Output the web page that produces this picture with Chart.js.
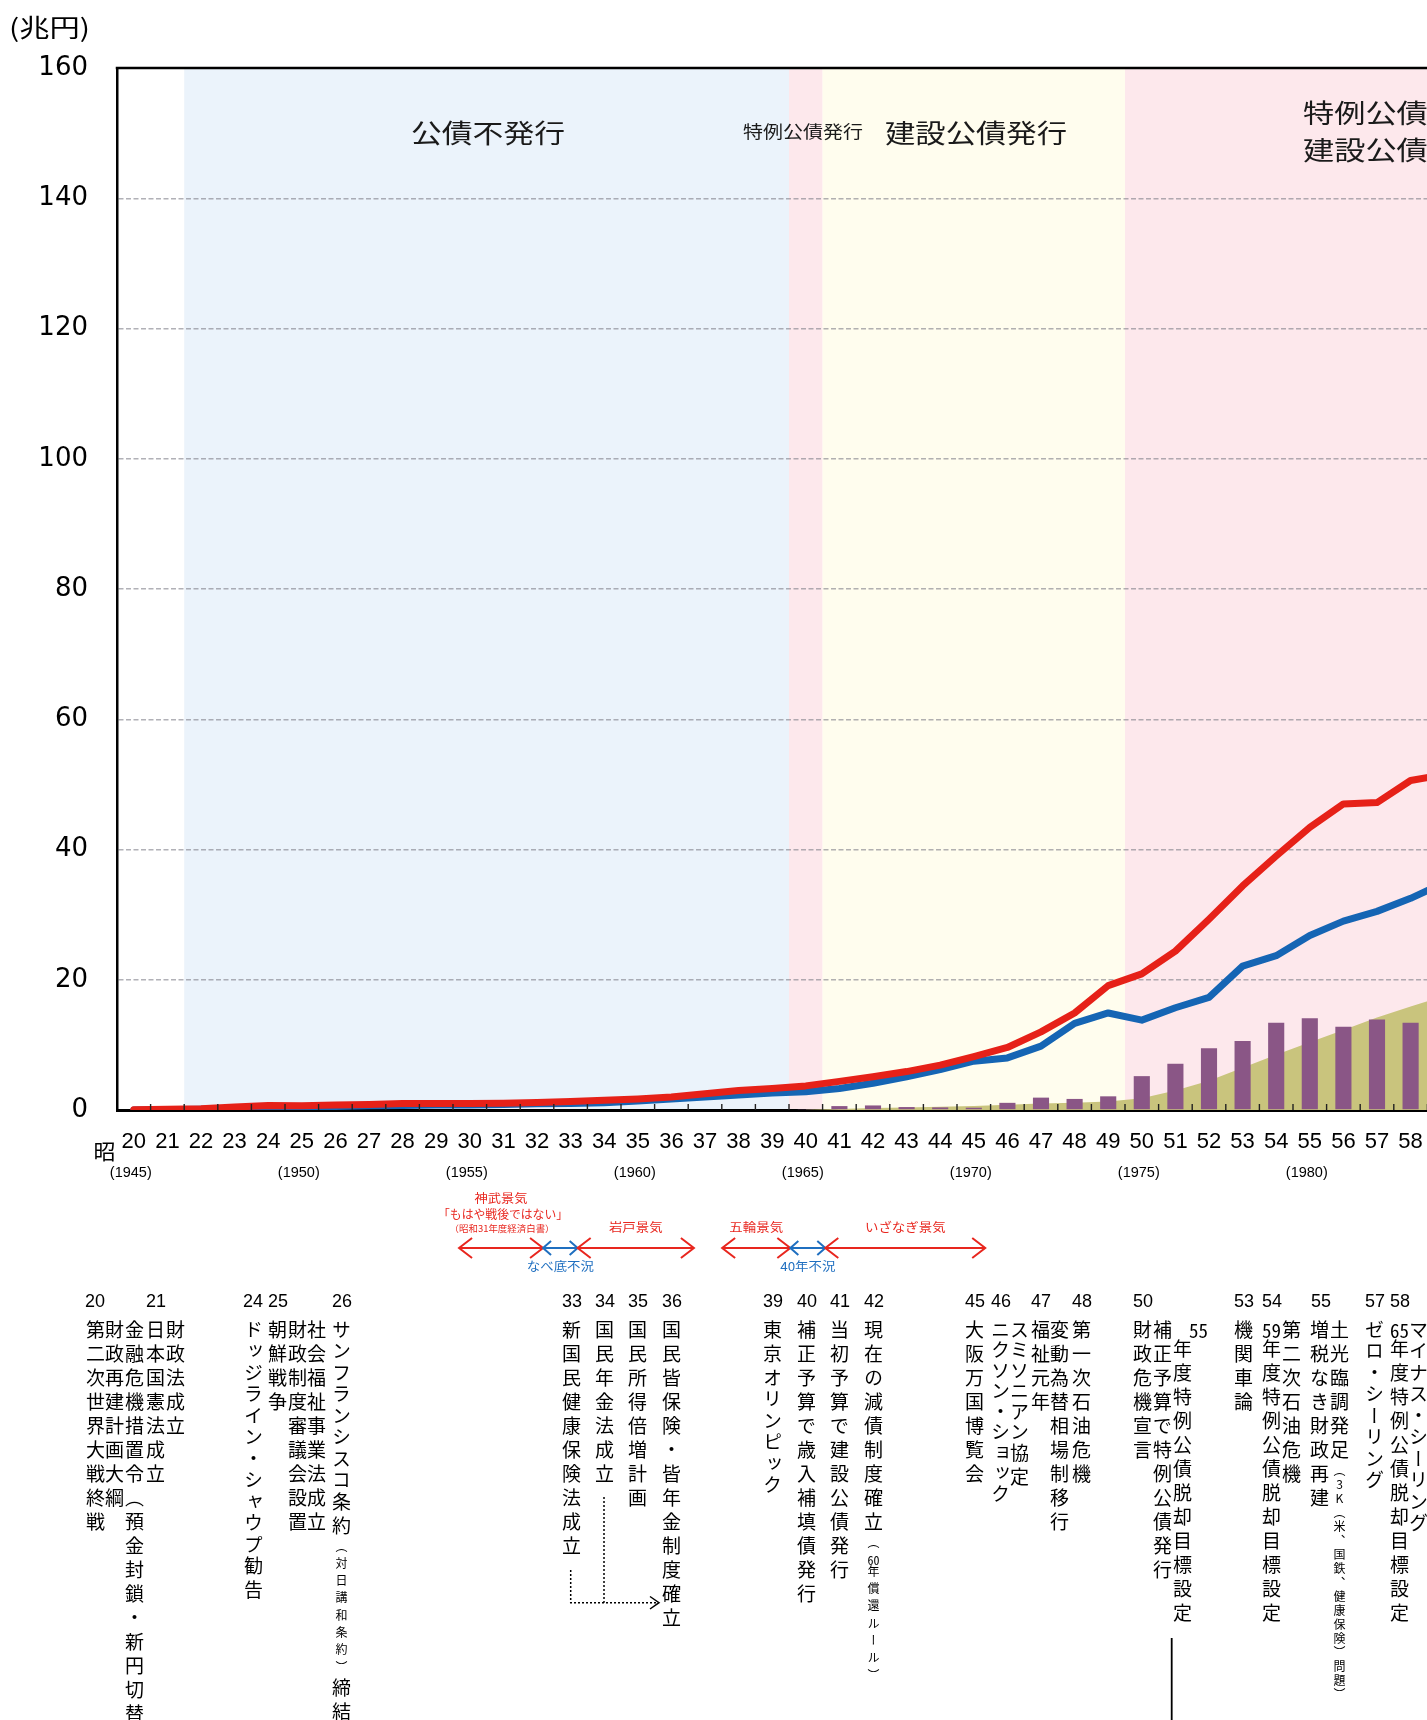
<!DOCTYPE html>
<html lang="ja">
<head>
<meta charset="utf-8">
<title>一般会計の推移</title>
<script src="https://cdn.jsdelivr.net/npm/chart.js@4.4.1/dist/chart.umd.min.js"></script>
<style>
  html, body { margin: 0; padding: 0; background: #fff; }
  body { position: relative; width: 1427px; height: 1720px; overflow: hidden; }
  #chart { position: absolute; left: 0; top: 0; }
  .yr { position: absolute; top: 1291px; font: 18px/20px "Liberation Sans", Arial, sans-serif; color: #000; }
  .note { position: absolute; top: 1320px; writing-mode: vertical-rl; font-family: "Noto Sans CJK JP", sans-serif;
          font-size: 19px; line-height: 20px; letter-spacing: 5px; color: #000; white-space: nowrap; }
  .note .s { font-size: 12px; letter-spacing: 5.3px; }
  .note .s2 { font-size: 12px; letter-spacing: 2px; }
  .note .k { letter-spacing: 2.5px; }
  .note .k2 { letter-spacing: 1.5px; }
  .tcy { text-combine-upright: all; }
  .up { text-orientation: upright; }
</style>
</head>
<body>
<canvas id="chart" width="1480" height="1720"></canvas>

<!-- 年表（縦書き） -->
<div class="yr" style="left:85px">20</div>
<div class="note" style="left:85px">第二次世界大戦終戦</div>
<div class="note" style="left:104px">財政再建計画大綱</div>
<div class="note" style="left:124px">金融危機措置令（預金封鎖・新円切替）</div>
<div class="yr" style="left:146px">21</div>
<div class="note" style="left:145px">日本国憲法成立</div>
<div class="note" style="left:165px">財政法成立</div>
<div class="yr" style="left:243px">24</div>
<div class="note" style="left:243px"><span class="k">ドッジライン・シャウプ</span>勧告</div>
<div class="yr" style="left:268px">25</div>
<div class="note" style="left:267px">朝鮮戦争</div>
<div class="note" style="left:287px">財政制度審議会設置</div>
<div class="note" style="left:306px">社会福祉事業法成立</div>
<div class="yr" style="left:332px">26</div>
<div class="note" style="left:331px"><span class="k">サンフランシスコ</span>条約<span class="s">（対日講和条約）</span>締結</div>
<div class="yr" style="left:562px">33</div>
<div class="note" style="left:561px">新国民健康保険法成立</div>
<div class="yr" style="left:595px">34</div>
<div class="note" style="left:594px">国民年金法成立</div>
<div class="yr" style="left:628px">35</div>
<div class="note" style="left:627px">国民所得倍増計画</div>
<div class="yr" style="left:662px">36</div>
<div class="note" style="left:661px">国民皆保険・皆年金制度確立</div>
<div class="yr" style="left:763px">39</div>
<div class="note" style="left:762px">東京<span class="k">オリンピック</span></div>
<div class="yr" style="left:797px">40</div>
<div class="note" style="left:796px">補正予算で歳入補填債発行</div>
<div class="yr" style="left:830px">41</div>
<div class="note" style="left:829px">当初予算で建設公債発行</div>
<div class="yr" style="left:864px">42</div>
<div class="note" style="left:863px">現在の減債制度確立<span class="s">（<span class="tcy">60</span>年償還ルール）</span></div>
<div class="yr" style="left:965px">45</div>
<div class="note" style="left:964px">大阪万国博覧会</div>
<div class="yr" style="left:991px">46</div>
<div class="note" style="left:990px"><span class="k2">ニクソン・ショック</span></div>
<div class="note" style="left:1009px"><span class="k2">スミソニアン</span>協定</div>
<div class="yr" style="left:1031px">47</div>
<div class="note" style="left:1030px">福祉元年</div>
<div class="note" style="left:1049px">変動為替相場制移行</div>
<div class="yr" style="left:1072px">48</div>
<div class="note" style="left:1071px">第一次石油危機</div>
<div class="yr" style="left:1133px">50</div>
<div class="note" style="left:1132px">財政危機宣言</div>
<div class="note" style="left:1152px">補正予算で特例公債発行</div>
<div class="note" style="left:1172px"><span class="tcy" style="position:relative;left:16px">55</span>年度特例公債脱却目標設定</div>
<div class="yr" style="left:1234px">53</div>
<div class="note" style="left:1233px">機関車論</div>
<div class="yr" style="left:1262px">54</div>
<div class="note" style="left:1261px"><span class="tcy">59</span>年度特例公債脱却目標設定</div>
<div class="note" style="left:1281px">第二次石油危機</div>
<div class="yr" style="left:1311px">55</div>
<div class="note" style="left:1309px">増税なき財政再建</div>
<div class="note" style="left:1329px">土光臨調発足<span class="s2">（<span class="up">3K</span>（米、国鉄、健康保険）問題）</span></div>
<div class="yr" style="left:1365px">57</div>
<div class="note" style="left:1364px"><span class="k">ゼロ・シーリング</span></div>
<div class="yr" style="left:1390px">58</div>
<div class="note" style="left:1389px"><span class="tcy">65</span>年度特例公債脱却目標設定</div>
<div class="note" style="left:1408px"><span class="k">マイナス・シーリング</span></div>

<script>
// 年度（昭和）
var years = ['20', '21', '22', '23', '24', '25', '26', '27', '28', '29',
             '30', '31', '32', '33', '34', '35', '36', '37', '38', '39',
             '40', '41', '42', '43', '44', '45', '46', '47', '48', '49',
             '50', '51', '52', '53', '54', '55', '56', '57', '58', '59'];

// 歳出（赤線, 兆円）
var expenditure = [0.02, 0.1, 0.2, 0.45, 0.7, 0.65, 0.75, 0.85, 1.0, 1.0,
                   1.0, 1.05, 1.15, 1.3, 1.5, 1.7, 2.0, 2.5, 3.0, 3.3,
                   3.7, 4.4, 5.1, 5.9, 6.9, 8.2, 9.6, 12.0, 14.9, 19.1,
                   20.9, 24.4, 29.3, 34.4, 39.0, 43.4, 47.0, 47.2, 50.6, 51.5];

// 税収（青線, 兆円）
var taxRevenue = [0.01, 0.04, 0.12, 0.25, 0.45, 0.45, 0.55, 0.65, 0.7, 0.75,
                  0.75, 0.85, 0.95, 1.0, 1.1, 1.4, 1.7, 2.0, 2.3, 2.6,
                  2.8, 3.3, 4.1, 5.1, 6.2, 7.5, 8.0, 9.8, 13.3, 14.9,
                  13.8, 15.7, 17.3, 22.1, 23.7, 26.8, 29.0, 30.5, 32.5, 34.9];

// 公債発行額（紫の棒, 兆円）
var bondIssue = [null, null, null, null, null, null, null, null, null, null,
                 null, null, null, null, null, null, null, null, null, null,
                 0.15, 0.6, 0.7, 0.45, 0.4, 0.35, 1.1, 1.9, 1.7, 2.1,
                 5.2, 7.1, 9.5, 10.6, 13.4, 14.1, 12.8, 13.9, 13.4, 12.8];

// 面グラフ（オリーブ）
var bondStock = [null, null, null, null, null, null, null, null, null, null,
                 null, null, null, null, null, null, null, null, null, null,
                 0.05, 0.15, 0.3, 0.4, 0.5, 0.6, 0.8, 1.0, 1.1, 1.3,
                 1.8, 3.0, 4.5, 6.5, 8.5, 10.4, 12.3, 14.2, 15.9, 17.5];

var yTickLabels = ['0', '20', '40', '60', '80', '100', '120', '140', '160'];

var eraYears = ['20', '25', '30', '35', '40', '45', '50', '55'];
var eraLabels = ['(1945)', '(1950)', '(1955)', '(1960)', '(1965)', '(1970)', '(1975)', '(1980)'];

// 背景の期間
var bandFrom = ['22', '40', '41', '50'];
var bandTo = ['39', '40', '49', '59'];

// 景気（昭和年度の位置）
var boomNames = ['神武景気', 'なべ底不況', '岩戸景気', '五輪景気', '40年不況', 'いざなぎ景気'];
var boomFrom = [29.68, 32.18, 33.21, 37.51, 39.54, 40.58];
var boomTo = [32.18, 33.21, 36.67, 39.54, 40.58, 45.34];
var boomKind = ['up', 'down', 'up', 'up', 'down', 'up'];

var bandColors = ['#ebf3fb', '#fde8ec', '#fffdee', '#fde8ec'];
var JP = '"Noto Sans CJK JP", sans-serif';

// Draw a text squeezed/stretched horizontally
function drawText(ctx, str, x, y, size, sx, color, align) {
    ctx.save();
    ctx.font = size + 'px ' + JP;
    ctx.fillStyle = color;
    ctx.textAlign = align || 'center';
    ctx.textBaseline = 'middle';
    ctx.translate(x, y);
    ctx.scale(sx, 1);
    ctx.fillText(str, 0, 0);
    ctx.restore();
}

function fitText(ctx, str, cx, cy, size, width, color) {
    ctx.save();
    ctx.font = size + 'px ' + JP;
    var m = ctx.measureText(str).width;
    ctx.restore();
    drawText(ctx, str, cx, cy, size, width / m, color, 'center');
}

function drawArrow(ctx, x0, x1, y, color, hw, hh) {
    ctx.save();
    ctx.strokeStyle = color;
    ctx.lineWidth = 2;
    ctx.beginPath();
    ctx.moveTo(x0, y);
    ctx.lineTo(x1, y);
    ctx.moveTo(x0 + hw, y - hh);
    ctx.lineTo(x0, y);
    ctx.lineTo(x0 + hw, y + hh);
    ctx.moveTo(x1 - hw, y - hh);
    ctx.lineTo(x1, y);
    ctx.lineTo(x1 - hw, y + hh);
    ctx.stroke();
    ctx.restore();
}

var decorations = {
    id: 'decorations',
    beforeDraw: function (chart) {
        var ctx = chart.ctx, area = chart.chartArea, x = chart.scales.x;
        var w = x.getPixelForValue(1) - x.getPixelForValue(0);
        ctx.save();
        for (var i = 0; i < bandFrom.length; i++) {
            var x0 = x.getPixelForValue(years.indexOf(bandFrom[i])) - w / 2;
            var x1 = x.getPixelForValue(years.indexOf(bandTo[i])) + w / 2;
            ctx.fillStyle = bandColors[i];
            ctx.fillRect(x0, area.top, x1 - x0, area.bottom - area.top);
        }
        ctx.restore();
    },
    afterDatasetsDraw: function (chart) {
        var ctx = chart.ctx, area = chart.chartArea, x = chart.scales.x;
        var w = x.getPixelForValue(1) - x.getPixelForValue(0);
        ctx.save();
        // small ticks between categories
        ctx.strokeStyle = '#222';
        ctx.lineWidth = 1.4;
        ctx.beginPath();
        for (var i = 1; i < years.length; i++) {
            var px = x.getPixelForValue(i) - w / 2;
            ctx.moveTo(px, area.bottom);
            ctx.lineTo(px, area.bottom - 6);
        }
        ctx.stroke();
        // top frame
        ctx.strokeStyle = '#000';
        ctx.lineWidth = 2.5;
        ctx.beginPath();
        ctx.moveTo(area.left - 1.25, area.top);
        ctx.lineTo(area.right, area.top);
        ctx.stroke();
        ctx.restore();
    },
    afterDraw: function (chart) {
        var ctx = chart.ctx, x = chart.scales.x;
        var w = x.getPixelForValue(1) - x.getPixelForValue(0);
        var x20 = x.getPixelForValue(0);

        fitText(ctx, '(兆円)', 49.5, 27, 25, 81, '#000');

        // band titles
        fitText(ctx, '公債不発行', 488, 133, 26, 154, '#1a1a1a');
        fitText(ctx, '特例公債発行', 803, 132, 17, 120, '#1a1a1a');
        fitText(ctx, '建設公債発行', 976, 133, 26, 182, '#1a1a1a');
        drawText(ctx, '特例公債発行', 1303, 113, 26, 1.2, '#1a1a1a', 'left');
        drawText(ctx, '建設公債発行', 1303, 150, 26, 1.2, '#1a1a1a', 'left');

        // 昭 and western years
        drawText(ctx, '昭', 104.5, 1151, 21, 1.05, '#000');
        ctx.save();
        ctx.font = '14.5px "Liberation Sans", Arial, sans-serif';
        ctx.fillStyle = '#000';
        ctx.textAlign = 'center';
        ctx.textBaseline = 'middle';
        for (var i = 0; i < eraYears.length; i++) {
            ctx.fillText(eraLabels[i], x.getPixelForValue(years.indexOf(eraYears[i])) - 3, 1173);
        }
        ctx.restore();

        // booms and slumps
        var red = '#e8261e', blue = '#1f6fc0';
        for (var j = 0; j < boomNames.length; j++) {
            var a = x20 + (boomFrom[j] - 20) * w;
            var b = x20 + (boomTo[j] - 20) * w;
            var c = (a + b) / 2;
            if (boomKind[j] === 'up') {
                drawArrow(ctx, a, b, 1248, red, 13, 10);
                if (j === 0) {
                    fitText(ctx, boomNames[j], c, 1198, 12, 53, red);
                    fitText(ctx, '「もはや戦後ではない」', c + 2, 1214.5, 12, 130, red);
                    fitText(ctx, '（昭和31年度経済白書）', c + 1, 1229, 9, 105, red);
                } else {
                    drawText(ctx, boomNames[j], c, 1227, 12, 1.12, red);
                }
            } else {
                drawArrow(ctx, a, b, 1248, blue, 8, 7);
                drawText(ctx, boomNames[j], c, 1266.5, 12, 1.12, blue);
            }
        }

        // dotted connector 33, 34 -> 36
        ctx.save();
        ctx.strokeStyle = '#000';
        ctx.lineWidth = 1.5;
        ctx.setLineDash([2, 2]);
        ctx.beginPath();
        ctx.moveTo(570.7, 1570);
        ctx.lineTo(570.7, 1602.7);
        ctx.lineTo(656, 1602.7);
        ctx.moveTo(604, 1497);
        ctx.lineTo(604, 1602.7);
        ctx.stroke();
        ctx.setLineDash([]);
        ctx.beginPath();
        ctx.moveTo(650, 1596.5);
        ctx.lineTo(659, 1602.7);
        ctx.lineTo(650, 1609);
        ctx.stroke();
        // solid line under 50
        ctx.lineWidth = 1.8;
        ctx.beginPath();
        ctx.moveTo(1171.7, 1638);
        ctx.lineTo(1171.7, 1720);
        ctx.stroke();
        ctx.restore();
    }
};

var ctx = document.getElementById('chart').getContext('2d');
var chart = new Chart(ctx, {
    type: 'bar',
    data: {
        labels: years,
        datasets: [{
            type: 'line',
            label: '歳出',
            data: expenditure,
            borderColor: '#e62118',
            borderWidth: 7,
            pointRadius: 0,
            tension: 0,
            borderJoinStyle: 'round',
            borderCapStyle: 'round',
            order: 0
        }, {
            type: 'line',
            label: '税収',
            data: taxRevenue,
            borderColor: '#1565b4',
            borderWidth: 7,
            pointRadius: 0,
            tension: 0,
            borderJoinStyle: 'round',
            borderCapStyle: 'round',
            order: 1
        }, {
            type: 'bar',
            label: '公債発行額',
            data: bondIssue,
            backgroundColor: '#8a5686',
            barPercentage: 0.48,
            categoryPercentage: 1,
            order: 2
        }, {
            type: 'line',
            label: '面',
            data: bondStock,
            fill: 'origin',
            backgroundColor: '#c9c47d',
            borderColor: 'rgba(0,0,0,0)',
            borderWidth: 0,
            pointRadius: 0,
            tension: 0,
            order: 3
        }]
    },
    options: {
        responsive: false,
        animation: false,
        devicePixelRatio: 1,
        layout: { padding: { top: 68, right: 19, left: 0, bottom: 0 } },
        plugins: {
            legend: { display: false },
            tooltip: { enabled: false }
        },
        scales: {
            x: {
                offset: true,
                grid: { display: false },
                border: { display: true, color: '#000', width: 3 },
                ticks: {
                    autoSkip: false,
                    maxRotation: 0,
                    padding: 11,
                    color: '#000',
                    font: { family: '"Liberation Sans", Arial, sans-serif', size: 22 }
                },
                afterFit: function (scale) { scale.height = 610; }
            },
            y: {
                min: 0,
                max: 160,
                ticks: {
                    stepSize: 20,
                    padding: 29,
                    color: '#000',
                    font: { family: '"DejaVu Sans", sans-serif', size: 26 },
                    callback: function (value) { return yTickLabels[value / 20]; }
                },
                grid: {
                    drawTicks: false,
                    lineWidth: 1.5,
                    color: function (c) {
                        var v = c.tick ? c.tick.value : 0;
                        return (v === 0 || v === 160) ? 'rgba(0,0,0,0)' : 'rgba(125,125,135,0.6)';
                    }
                },
                border: { display: true, color: '#000', width: 2.5, dash: [5, 2.5] },
                afterFit: function (scale) { scale.width = 117; }
            }
        }
    },
    plugins: [decorations]
});
</script>
</body>
</html>
